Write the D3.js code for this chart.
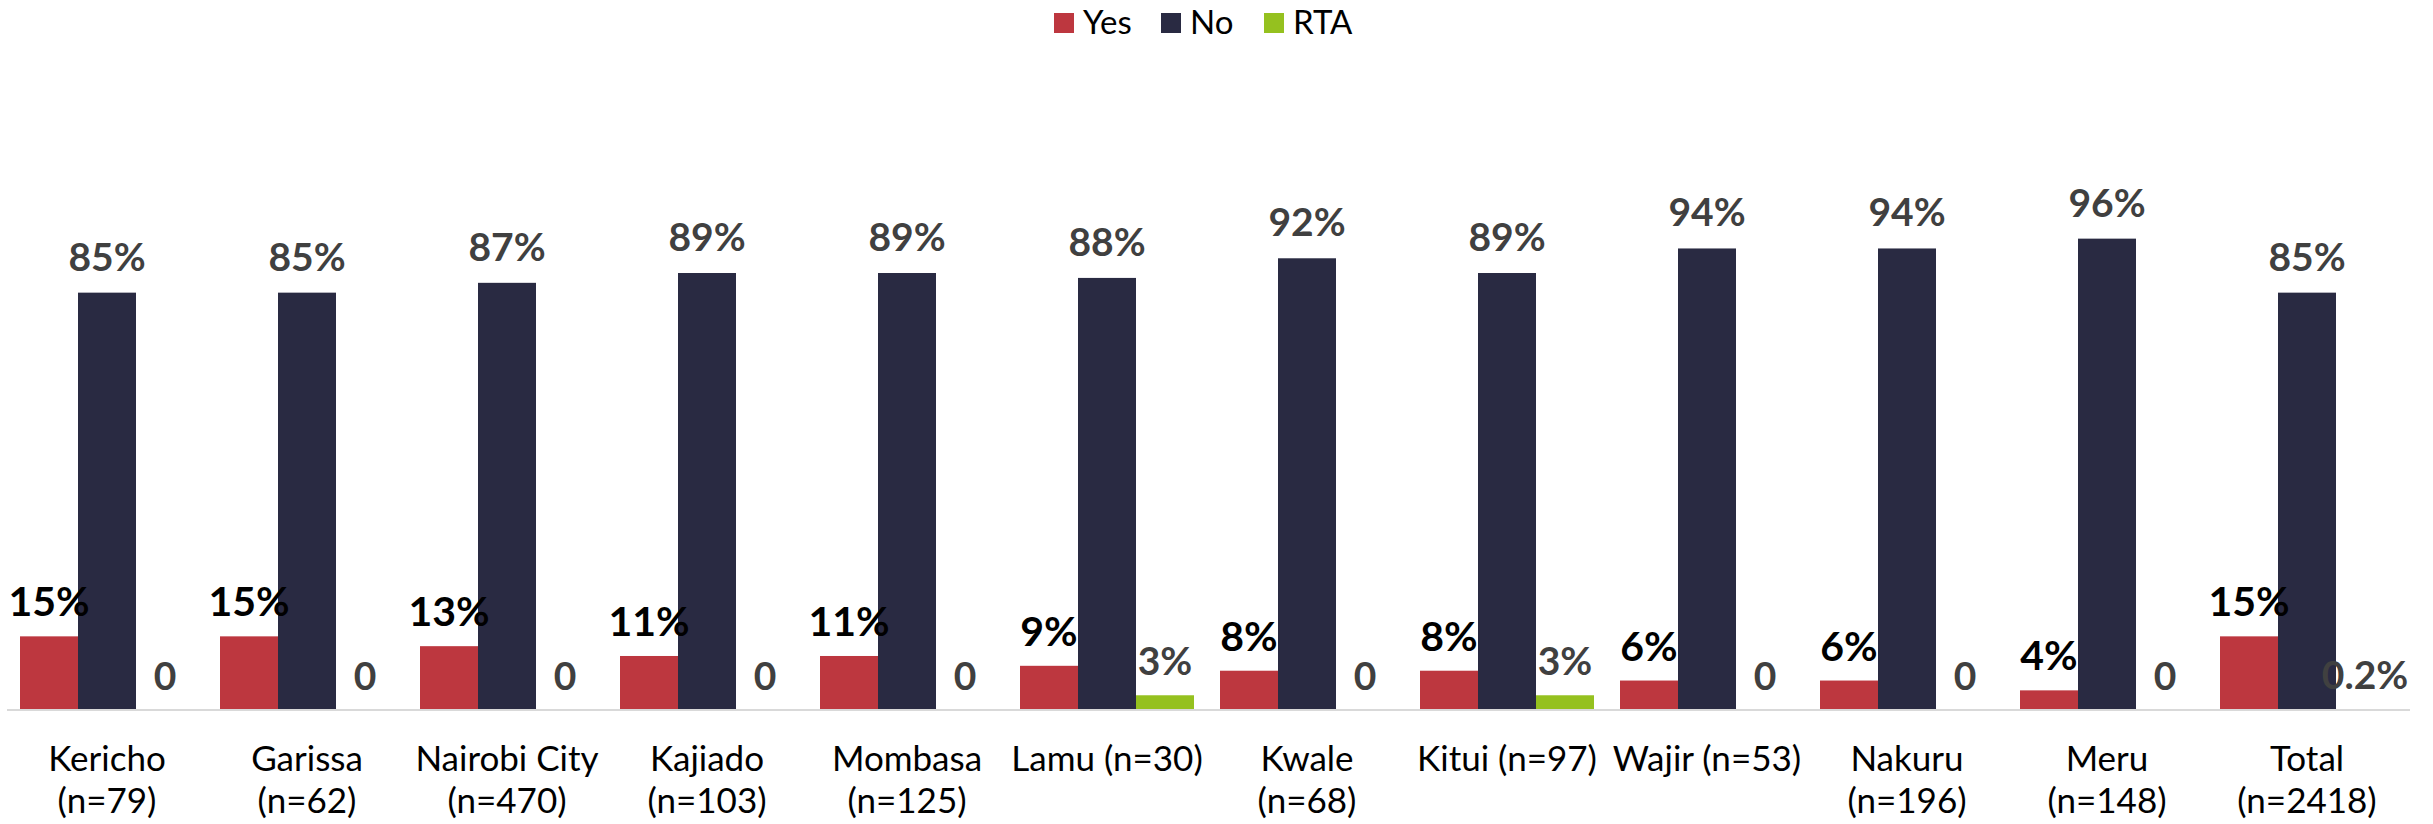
<!DOCTYPE html>
<html>
<head>
<meta charset="utf-8">
<script src="https://cdn.jsdelivr.net/npm/d3@7"></script>
<style>
  html, body { margin: 0; padding: 0; background: #fff; }
  svg { display: block; font-family: Lato, "Open Sans", sans-serif; }
</style>
</head>
<body>
<div class="canvas"></div>
<script>
// data
const categories = ["Kericho\n(n=79)", "Garissa\n(n=62)", "Nairobi City\n(n=470)", "Kajiado\n(n=103)",
  "Mombasa\n(n=125)", "Lamu (n=30)", "Kwale\n(n=68)", "Kitui (n=97)", "Wajir (n=53)",
  "Nakuru\n(n=196)", "Meru\n(n=148)", "Total\n(n=2418)"];
const seriesNames = ["Yes", "No", "RTA"];
const yesValues = [15, 15, 13, 11, 11, 9, 8, 8, 6, 6, 4, 15];
const noValues  = [85, 85, 87, 89, 89, 88, 92, 89, 94, 94, 96, 85];
const rtaValues = [0, 0, 0, 0, 0, 3, 0, 3, 0, 0, 0, 0.2];

const dims = {width: 2433, height: 824};
const colour = d3.scaleOrdinal().domain(seriesNames).range(["#BD373F", "#292A42", "#95C11F"]);
const labelColour = {Yes: "#000", No: "#404040", RTA: "#404040"};

const svg = d3.select('.canvas').append('svg')
    .attr('width', dims.width)
    .attr('height', dims.height);

// scales
const x0 = d3.scaleBand().domain(categories).range([7, 2407]);
const x1 = d3.scaleBand().domain(seriesNames).range([13, 187]);
const y = d3.scaleLinear().domain([0, 100]).range([710, 219]);

const rows = categories.map((c, i) => ({
  cat: c,
  vals: [
    {key: "Yes", v: yesValues[i]},
    {key: "No", v: noValues[i]},
    {key: "RTA", v: rtaValues[i]}
  ]
}));

// bars
const groups = svg.selectAll('.grp').data(rows).enter()
  .append('g').attr('class', 'grp')
  .attr('transform', d => `translate(${x0(d.cat)},0)`);

groups.selectAll('rect').data(d => d.vals).enter()
  .append('rect')
    .attr('x', d => x1(d.key))
    .attr('width', x1.bandwidth())
    .attr('y', d => y(d.v))
    .attr('height', d => y(0) - y(d.v))
    .attr('fill', d => colour(d.key));

// axis line (no ticks)
const xAxis = d3.axisBottom(x0).tickSize(0).tickFormat('');
svg.append('g').attr('transform', `translate(0,${y(0)})`).call(xAxis)
  .call(g => g.select('.domain').attr('stroke', '#D9D9D9').attr('stroke-width', 2)
      .attr('d', `M7,0H2410`));

// value labels
groups.selectAll('.val').data(d => d.vals).enter()
  .append('text').attr('class', 'val')
    .attr('x', d => x1(d.key) + x1.bandwidth() / 2)
    .attr('y', d => y(d.v) - (d.key === 'No' ? 22 : 20))
    .attr('text-anchor', 'middle')
    .attr('font-weight', 'bold')
    .attr('font-size', d => d.key === 'Yes' ? 41 : 39)
    .attr('fill', d => labelColour[d.key])
    .text(d => d.v === 0 ? '0' : d.v + '%');

// category labels
groups.append('text')
  .attr('text-anchor', 'middle')
  .attr('font-size', 35)
  .attr('fill', '#000')
  .selectAll('tspan').data(d => d.cat.split('\n')).enter()
  .append('tspan')
    .attr('x', x0.bandwidth() / 2)
    .attr('y', (d, i) => 771 + i * 42)
    .text(d => d);

// legend
const legendX = [1054, 1161, 1264];
const legend = svg.selectAll('.leg').data(seriesNames).enter()
  .append('g').attr('class', 'leg')
  .attr('transform', (d, i) => `translate(${legendX[i]},13)`);
legend.append('rect').attr('width', 20).attr('height', 20).attr('fill', d => colour(d));
legend.append('text').attr('x', 29).attr('y', 21).attr('font-size', 33).attr('fill', '#000').text(d => d);
</script>
</body>
</html>
